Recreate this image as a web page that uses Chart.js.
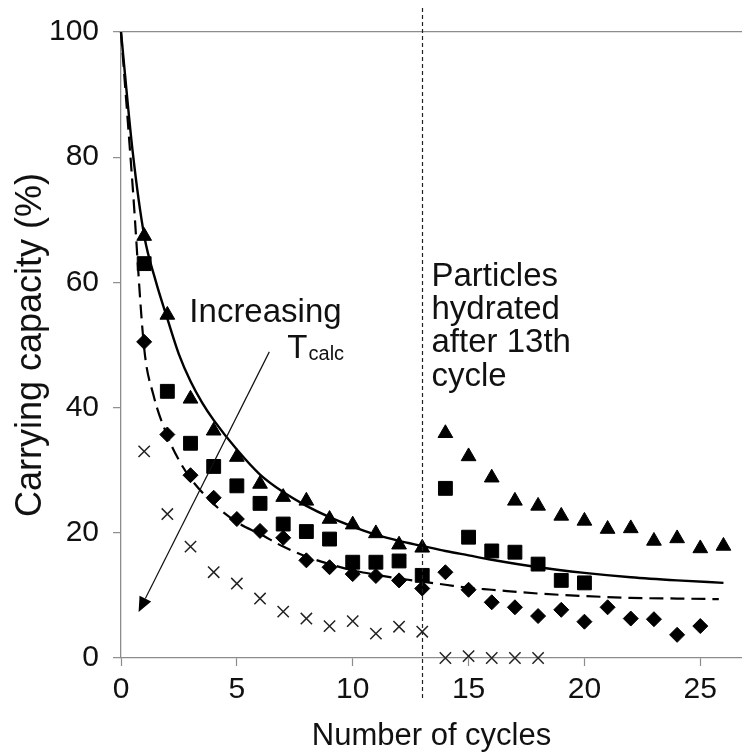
<!DOCTYPE html>
<html>
<head>
<meta charset="utf-8">
<script src="https://cdn.jsdelivr.net/npm/chart.js@4.4.1/dist/chart.umd.min.js"></script>
<style>
html,body{margin:0;padding:0;background:#fff;}
canvas{display:block;}
</style>
</head>
<body>
<canvas id="c" width="742" height="755"></canvas>
<script>
// ---- data ----
const triX = [1,2,3,4,5,6,7,8,9,10,11,12,13,14,15,16,17,18,19,20,21,22,23,24,25,26];
const triY = [67.4,54.8,41.4,36.3,32.1,27.8,25.7,25.1,22.2,21.3,19.9,18.1,17.6,35.9,32.2,28.8,25.1,24.3,22.7,21.9,20.6,20.7,18.7,19.1,17.5,17.9];
const sqX = [1,2,3,4,5,6,7,8,9,10,11,12,13,14,15,16,17,18,19,20];
const sqY = [63.0,42.6,34.3,30.6,27.5,24.7,21.4,20.2,19.0,15.3,15.3,15.5,13.2,27.1,19.3,17.1,16.9,15.0,12.4,12.0];
const diaX = [1,2,3,4,5,6,7,8,9,10,11,12,13,14,15,16,17,18,19,20,21,22,23,24,25];
const diaY = [50.5,35.7,29.2,25.6,22.2,20.3,19.2,15.6,14.5,13.4,13.1,12.4,11.1,13.7,10.9,8.9,8.1,6.7,7.7,5.8,8.1,6.3,6.2,3.7,5.1];
const crsX = [1,2,3,4,5,6,7,8,9,10,11,12,13,14,15,16,17,18];
const crsY = [33.0,23.0,17.8,13.7,11.9,9.5,7.4,6.3,5.1,5.9,3.9,5.0,4.2,0,0.3,0,0,0];
// fitted curves
const solidX = [0,0.5,1,1.5,2,2.5,3,3.5,4,5,6,7,8,9,10,11,12,13,14,15,16,18,20,22,24,26];
const solidY = [100,81,67.5,60.2,54.2,48.5,44.2,40.8,38,33.3,29.3,26.5,24.3,22.5,21,19.7,18.7,17.9,17.1,16.4,15.7,14.5,13.6,12.9,12.4,12.0];
const dashX = [0,0.5,1,1.4,2,2.5,3,4,5,6,7,8,9,10,11,12,13,14,15,16,18,20,22,24,25.8];
const dashY = [100,75.5,49.5,42,35.5,31.6,28.7,24.6,21.7,19.8,17.8,16.2,15.0,14.0,13.3,12.7,12.2,11.7,11.2,10.9,10.3,9.9,9.6,9.5,9.4];
// axes
const xMin = 0, xMax = 26.8;
const xTicks = [0,5,10,15,20,25];
const yMin = 0, yMax = 100, yStep = 20;
const xTitle = 'Number of cycles';
const yTitle = 'Carrying capacity (%)';
const hydrateCycle = 13;
const arrowFrom = [6.4, 48.9], arrowTo = [0.76, 7.35];
const noteLeft = ['Increasing'];
const noteRight = ['Particles','hydrated','after 13th','cycle'];

const FONT = "'Liberation Sans', Arial, Helvetica, sans-serif";
const pts = (xs, ys) => xs.map((x, i) => ({x: x, y: ys[i]}));

const annot = {
  id: 'annot',
  afterDatasetsDraw(chart) {
    const ctx = chart.ctx, xs = chart.scales.x, ys = chart.scales.y;
    ctx.save();
    // vertical dashed line at hydration cycle
    const vx = Math.round(xs.getPixelForValue(hydrateCycle)) + 0.5;
    ctx.strokeStyle = '#222';
    ctx.lineWidth = 1.2;
    ctx.setLineDash([4, 3]);
    ctx.beginPath();
    ctx.moveTo(vx, 8);
    ctx.lineTo(vx, 698);
    ctx.stroke();
    ctx.setLineDash([]);
    // arrow
    const ax0 = xs.getPixelForValue(arrowFrom[0]), ay0 = ys.getPixelForValue(arrowFrom[1]);
    const ax1 = xs.getPixelForValue(arrowTo[0]), ay1 = ys.getPixelForValue(arrowTo[1]);
    const ang = Math.atan2(ay1 - ay0, ax1 - ax0);
    const hl = 15, hw = 6.5;
    const bx = ax1 - hl * Math.cos(ang), by = ay1 - hl * Math.sin(ang);
    ctx.strokeStyle = '#111';
    ctx.lineWidth = 1.2;
    ctx.beginPath();
    ctx.moveTo(ax0, ay0);
    ctx.lineTo(bx, by);
    ctx.stroke();
    ctx.fillStyle = '#000';
    ctx.beginPath();
    ctx.moveTo(ax1, ay1);
    ctx.lineTo(bx + hw * Math.sin(ang), by - hw * Math.cos(ang));
    ctx.lineTo(bx - hw * Math.sin(ang), by + hw * Math.cos(ang));
    ctx.closePath();
    ctx.fill();
    // texts
    ctx.fillStyle = '#111';
    ctx.textBaseline = 'alphabetic';
    ctx.textAlign = 'left';
    ctx.font = '33px ' + FONT;
    ctx.fillText(noteLeft[0], xs.getPixelForValue(2.95), ys.getPixelForValue(53.65));
    const tX = xs.getPixelForValue(7.18), tY = ys.getPixelForValue(47.9);
    ctx.fillText('T', tX, tY);
    const tw = ctx.measureText('T').width;
    ctx.font = '20px ' + FONT;
    ctx.fillText('calc', tX + tw + 1, tY + 2);
    ctx.font = '33px ' + FONT;
    const px = xs.getPixelForValue(13.4);
    const bases = [59.5, 54.1, 48.9, 43.5];
    noteRight.forEach((t, i) => ctx.fillText(t, px, ys.getPixelForValue(bases[i])));
    ctx.restore();
  }
};

new Chart(document.getElementById('c'), {
  type: 'scatter',
  data: {
    datasets: [
      {type: 'line', data: pts(solidX, solidY), borderColor: '#000', borderWidth: 2.4, pointRadius: 0, fill: false, cubicInterpolationMode: 'monotone', order: 2, clip: false},
      {type: 'line', data: pts(dashX, dashY), borderColor: '#000', borderWidth: 2.2, borderDash: [14, 7], pointRadius: 0, fill: false, cubicInterpolationMode: 'monotone', order: 2, clip: false},
      {data: pts(triX, triY), pointStyle: 'triangle', pointRadius: 8.5, backgroundColor: '#000', borderColor: '#000', borderWidth: 1, order: 1, clip: false},
      {data: pts(sqX, sqY), pointStyle: 'rect', pointRadius: 9.8, backgroundColor: '#000', borderColor: '#000', borderWidth: 1, order: 1, clip: false},
      {data: pts(diaX, diaY), pointStyle: 'rectRot', pointRadius: 7.5, backgroundColor: '#000', borderColor: '#000', borderWidth: 1, order: 1, clip: false},
      {data: pts(crsX, crsY), pointStyle: 'crossRot', pointRadius: 8, backgroundColor: '#222', borderColor: '#222', borderWidth: 1.5, order: 1, clip: false}
    ]
  },
  options: {
    responsive: false,
    animation: false,
    devicePixelRatio: 1,
    layout: {autoPadding: false, padding: {top: 28, right: 0, left: 0, bottom: 0}},
    plugins: {legend: {display: false}, tooltip: {enabled: false}},
    scales: {
      x: {
        type: 'linear', min: xMin, max: xMax,
        afterBuildTicks: s => { s.ticks = xTicks.map(v => ({value: v})); },
        afterFit: s => { s.height = 97; s.paddingRight = 0; s.paddingLeft = 0; },
        ticks: {font: {family: FONT, size: 30}, color: '#111', padding: 6, maxRotation: 0, autoSkip: false},
        grid: {drawOnChartArea: false, tickLength: 8, tickColor: '#8c8c8c', tickWidth: 1.2},
        border: {color: '#8c8c8c', width: 1.3},
        title: {display: true, text: xTitle, font: {family: FONT, size: 31}, color: '#111', padding: {top: 0, bottom: 0}}
      },
      y: {
        type: 'linear', min: yMin, max: yMax,
        afterFit: s => { s.width = 121; },
        ticks: {stepSize: yStep, font: {family: FONT, size: 30}, color: '#111', padding: 14},
        grid: {drawOnChartArea: true, color: c => (c.tick && c.tick.value === yMax) ? '#8c8c8c' : 'rgba(0,0,0,0)', lineWidth: 1.3, tickLength: 8, tickColor: '#8c8c8c', tickWidth: 1.2},
        border: {color: '#8c8c8c', width: 1.3},
        title: {display: true, text: yTitle, font: {family: FONT, size: 36}, color: '#111', padding: {top: 9, bottom: 0}}
      }
    }
  },
  plugins: [annot]
});
</script>
</body>
</html>
